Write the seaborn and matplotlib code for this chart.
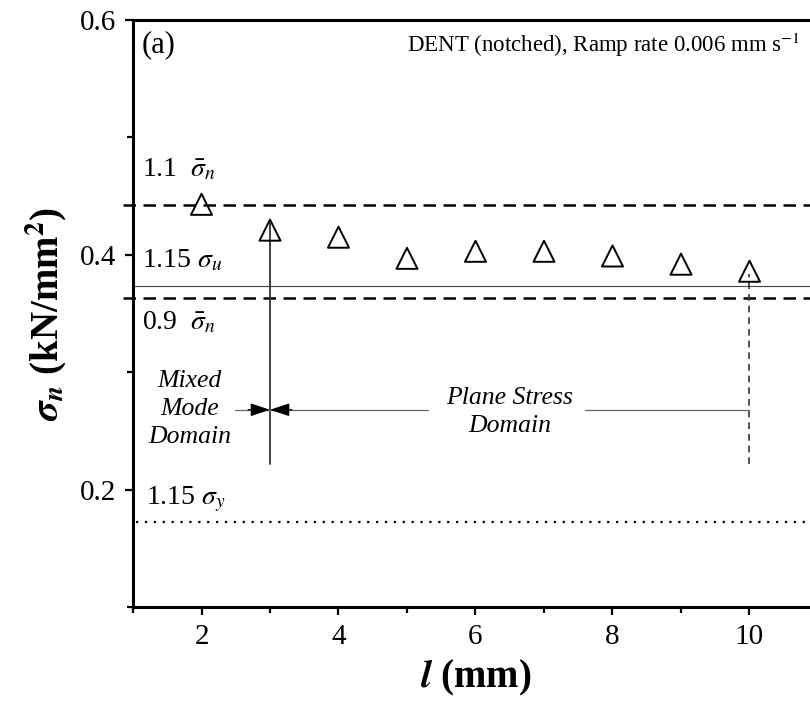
import matplotlib
matplotlib.use("Agg")
import matplotlib.pyplot as plt
from matplotlib.ticker import MultipleLocator
import seaborn as sns
import pandas as pd

# Values
l_mm = [2, 3, 4, 5, 6, 7, 8, 9, 10]
sigma_n = [0.443, 0.421, 0.415, 0.397, 0.403, 0.403, 0.399, 0.392, 0.386]

upper_band = 0.442    # 1.1 mean sigma_n
lower_band = 0.363    # 0.9 mean sigma_n
sigma_u_line = 0.373  # 1.15 sigma_u
sigma_y_line = 0.172  # 1.15 sigma_y

mixed_x = 3
plane_x = 10
marker_bottom = 0.222
mixed_top = 0.429
plane_top = 0.384
domain_y = 0.268

x_ticks = [2, 4, 6, 8, 10]
y_ticks = [0.2, 0.4, 0.6]

df = pd.DataFrame({"l": l_mm, "sigma": sigma_n})

sns.set_style("ticks")
plt.rcParams['font.family'] = ['Liberation Serif', 'DejaVu Serif']
plt.rcParams['mathtext.fontset'] = 'stix'
for key in ['text.color', 'axes.labelcolor', 'xtick.color', 'ytick.color', 'axes.edgecolor']:
    plt.rcParams[key] = 'black'

fig = plt.figure(figsize=(8.1, 7.09), dpi=100)
ax = fig.add_axes([133 / 810, 1 - 607 / 709, 685 / 810, 587 / 709])

sns.scatterplot(data=df, x="l", y="sigma", marker="^", s=230, facecolor="none",
                edgecolor="black", linewidth=1.4, ax=ax, zorder=5)

# reference lines
ax.axhline(upper_band, xmin=-0.015, color="black", ls=(0, (5, 3)), lw=1.8, clip_on=False)
ax.axhline(lower_band, xmin=-0.015, color="black", ls=(0, (5, 3)), lw=1.8, clip_on=False)
ax.axhline(sigma_u_line, color="#444444", lw=0.8)
ax.axhline(sigma_y_line, xmin=0.005, color="black", ls=(0, (1, 3)), lw=1.6)

# domain markers
ax.plot([mixed_x, mixed_x], [marker_bottom, mixed_top], color="#333333", lw=1.3)
ax.plot([plane_x, plane_x], [marker_bottom, plane_top], color="#333333", lw=1.2, ls=(0, (4, 3)))

ax.plot([2.49, mixed_x], [domain_y, domain_y], color="#666666", lw=0.9)
ax.plot([mixed_x, 5.31], [domain_y, domain_y], color="#666666", lw=0.9)
ax.plot([7.6, plane_x], [domain_y, domain_y], color="#666666", lw=0.9)
arrow = dict(arrowstyle="-|>,head_length=1.2,head_width=0.4", color="black", lw=0.9,
             shrinkA=0, shrinkB=0)
ax.annotate("", xy=(mixed_x, domain_y), xytext=(2.68, domain_y), arrowprops=arrow)
ax.annotate("", xy=(mixed_x, domain_y), xytext=(3.32, domain_y), arrowprops=arrow)

# texts
ax.text(1.13, 0.579, "(a)", fontsize=22, ha="left", va="center")
ax.text(10.74, 0.579, r"DENT (notched), Ramp rate 0.006 mm s$^{-1}$", fontsize=16.5,
        ha="right", va="center")
ax.text(1.13, 0.4664, r"1.1  $\bar{\sigma}_n$", fontsize=20, ha="left", va="baseline")
ax.text(1.13, 0.389, r"1.15 $\sigma_u$", fontsize=20, ha="left", va="baseline")
ax.text(1.13, 0.3366, r"0.9  $\bar{\sigma}_n$", fontsize=20, ha="left", va="baseline")
ax.text(1.19, 0.1873, r"1.15 $\sigma_y$", fontsize=20, ha="left", va="baseline")
ax.text(1.83, 0.269, "Mixed\nMode\nDomain", fontsize=18.5, style="italic",
        ha="center", va="center", multialignment="center", linespacing=1.35)
ax.text(6.5, 0.266, "Plane Stress\nDomain", fontsize=18.5, style="italic",
        ha="center", va="center", multialignment="center", linespacing=1.35)

ax.set_xlim(1, 11)
ax.set_ylim(0.1, 0.6)
ax.set_xticks(x_ticks)
ax.set_yticks(y_ticks)
ax.set_yticklabels([f"{v:.1f}" for v in y_ticks])
ax.xaxis.set_minor_locator(MultipleLocator(1))
ax.yaxis.set_minor_locator(MultipleLocator(0.1))
ax.tick_params(which="major", direction="out", length=6, width=1.6, labelsize=21, pad=6)
ax.tick_params(which="minor", direction="out", length=4, width=1.6)

ax.set_xlabel(r"$\boldsymbol{l}$ (mm)", fontsize=28, fontweight="bold", labelpad=6)
ax.set_ylabel(r"$\boldsymbol{\sigma}_\boldsymbol{n}$ (kN/mm$^\mathbf{2}$)", fontsize=28,
              fontweight="bold", labelpad=8)

for side in ["left", "bottom", "top"]:
    ax.spines[side].set_linewidth(2.2)
ax.spines["top"].set_visible(True)
ax.spines["right"].set_visible(False)

fig.savefig("out.png", dpi=100)
